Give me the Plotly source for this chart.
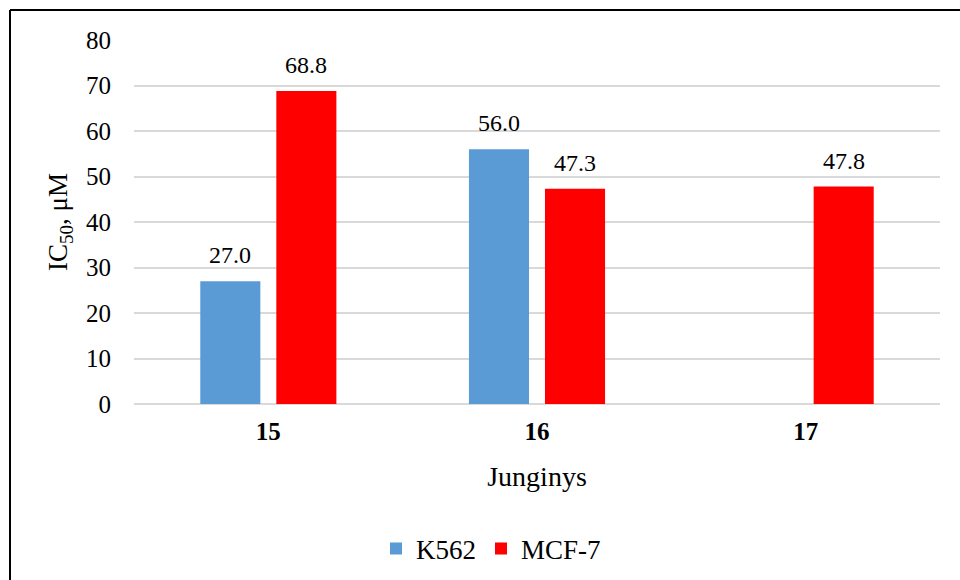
import plotly.graph_objects as go

# Compounds and IC50 values (µM) for the two cell lines
compounds = ["15", "16", "17"]
k562_ic50 = [27.0, 56.0, None]
mcf7_ic50 = [68.8, 47.3, 47.8]

y_ticks = [0, 10, 20, 30, 40, 50, 60, 70, 80]

FONT = "Liberation Serif, Times New Roman, serif"

# Plot area spans px 134..940 horizontally, 40..404 vertically
L, R, T, B = 134, 20, 40, 176
W = 960 - L - R
H = 580 - T - B


def px_x(px):
    return (px - L) / W


def px_y(py):
    return (580 - B - py) / H


fig = go.Figure()
fig.add_trace(go.Bar(
    name="K562", x=compounds, y=k562_ic50,
    marker=dict(color="#5b9bd5", line=dict(width=0)),
))
fig.add_trace(go.Bar(
    name="MCF-7", x=compounds, y=mcf7_ic50,
    marker=dict(color="#ff0000", line=dict(width=0)),
))

# Value labels above each bar, shifted onto the bar's slot within the group.
# Category axes take the category index as the annotation position.
annotations = []
for values, shift in ((k562_ic50, -38), (mcf7_ic50, 38)):
    for idx, v in enumerate(values):
        if v is None:
            continue
        annotations.append(dict(
            x=idx, y=v, xref="x", yref="y", text=f"{v:.1f}",
            showarrow=False, xshift=shift, yanchor="bottom", yshift=11,
            font=dict(family=FONT, size=24, color="#000000"),
        ))

fig.update_layout(
    width=960, height=580,
    margin=dict(l=L, r=R, t=T, b=B, autoexpand=False),
    paper_bgcolor="white", plot_bgcolor="white",
    barmode="group", bargap=0.434, bargroupgap=0.21,
    font=dict(family=FONT, color="#000000"),
    showlegend=True,
    legend=dict(
        orientation="h", x=px_x(491), y=px_y(549),
        xanchor="center", yanchor="middle",
        font=dict(family=FONT, size=27, color="#000000"),
        bgcolor="rgba(0,0,0,0)",
    ),
    xaxis=dict(
        type="category", range=[-0.5, len(compounds) - 0.5],
        showgrid=False, showline=False, zeroline=False,
        tickfont=dict(family=FONT, size=25, color="#000000", weight="bold"),
        ticklabelstandoff=10,
        title=dict(text="Junginys", font=dict(family=FONT, size=28, color="#000000"),
                   standoff=22),
        automargin=False,
    ),
    yaxis=dict(
        range=[0, 80], tickvals=y_ticks,
        showgrid=True, gridcolor="#d9d9d9", gridwidth=2,
        zeroline=True, zerolinecolor="#d9d9d9", zerolinewidth=2,
        showline=False,
        tickfont=dict(family=FONT, size=25, color="#000000"),
        ticklabelstandoff=22,
        title=dict(text="IC<sub>50</sub>, μM",
                   font=dict(family=FONT, size=27, color="#000000"), standoff=10),
        automargin=False,
    ),
    annotations=annotations,
    shapes=[
        dict(type="line", xref="paper", yref="paper",
             x0=px_x(10), x1=px_x(1000), y0=px_y(10), y1=px_y(10),
             line=dict(color="#000000", width=2), layer="above"),
        dict(type="line", xref="paper", yref="paper",
             x0=px_x(10), x1=px_x(10), y0=px_y(10), y1=px_y(620),
             line=dict(color="#000000", width=2), layer="above"),
    ],
)

fig.write_html("out.html")
